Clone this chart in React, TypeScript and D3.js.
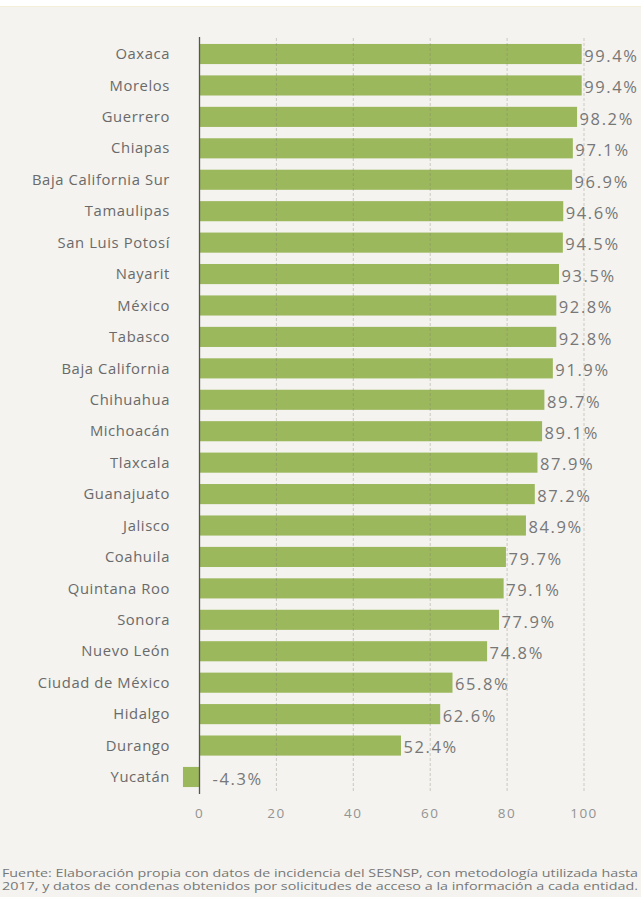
import React from "react";
import * as d3 from "d3";

const categories = [
  "Oaxaca", "Morelos", "Guerrero", "Chiapas", "Baja California Sur", "Tamaulipas",
  "San Luis Potosí", "Nayarit", "México", "Tabasco", "Baja California", "Chihuahua",
  "Michoacán", "Tlaxcala", "Guanajuato", "Jalisco", "Coahuila", "Quintana Roo",
  "Sonora", "Nuevo León", "Ciudad de México", "Hidalgo", "Durango", "Yucatán",
];
const values = [
  99.4, 99.4, 98.2, 97.1, 96.9, 94.6, 94.5, 93.5, 92.8, 92.8, 91.9, 89.7,
  89.1, 87.9, 87.2, 84.9, 79.7, 79.1, 77.9, 74.8, 65.8, 62.6, 52.4, -4.3,
];
const ticks = [0, 20, 40, 60, 80, 100];
const footnote = [
  "Fuente: Elaboración propia con datos de incidencia del SESNSP, con metodología utilizada hasta",
  "2017, y datos de condenas obtenidos por solicitudes de acceso a la información a cada entidad.",
];

export default function App() {
  const W = 641, H = 897;
  const x = d3.scaleLinear().domain([0, 100]).range([199.5, 584]);
  const y = d3.scaleBand<string>().domain(categories).range([38.3, 792.7]).paddingInner(0.36).paddingOuter(0.18);
  const font = "'Open Sans', 'DejaVu Sans', sans-serif";
  const bw = y.bandwidth();
  return (
    <svg width={W} height={H} style={{ position: "absolute", left: 0, top: 0 }}>
      <rect x={0} y={0} width={W} height={H} fill="#ffffff" />
      <rect x={0} y={6} width={W} height={H - 6} fill="#f4f3ef" />
      <line x1={0} x2={W} y1={6.5} y2={6.5} stroke="#f3efd9" strokeWidth={1} />
      {categories.map((c, i) => {
        const v = values[i];
        const x0 = x(Math.min(0, v));
        const x1 = x(Math.max(0, v));
        const yy = y(c)!;
        return (
          <g key={c}>
            <rect x={x0} y={yy} width={x1 - x0} height={bw} fill="#9cb85d" />
            <text x={170} y={yy + bw / 2} dy="0.35em" textAnchor="end" fontFamily={font} fontSize={14.8} letterSpacing={0.6} fill="#6a6a6a">{c}</text>
            <text x={(v < 0 ? x(0) + 13 : x1 + 2.5)} y={yy + bw / 2 + 2} dy="0.35em" fontFamily={font} fontSize={16.5} letterSpacing={1.6} fill="#777777">{v.toFixed(1)}%</text>
          </g>
        );
      })}
      {ticks.slice(1).map((t) => (
        <line key={t} x1={x(t)} x2={x(t)} y1={38} y2={793} stroke="#7a7a6a" strokeOpacity={0.35} strokeWidth={1} strokeDasharray="3,2" />
      ))}
      <line x1={x(0)} x2={x(0)} y1={37} y2={794} stroke="#555" strokeWidth={1.3} />
      {ticks.map((t) => (
        <text key={t} x={x(t)} y={813} dy="0.35em" textAnchor="middle" fontFamily={font} fontSize={13.5} letterSpacing={1.5} fill="#939393">{t}</text>
      ))}
      {footnote.map((l, i) => (
        <text key={i} x={2} y={877 + i * 12.5} fontFamily={font} fontSize={10.2} fill="#777" textLength={636} lengthAdjust="spacingAndGlyphs">{l}</text>
      ))}
    </svg>
  );
}
